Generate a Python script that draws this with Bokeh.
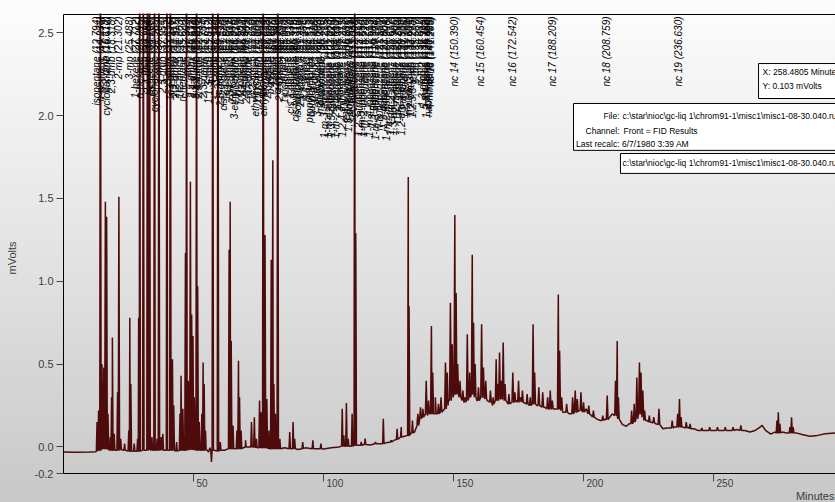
import math
from bokeh.plotting import figure
from bokeh.models import Range1d, FixedTicker, PrintfTickFormatter, Label, BoxAnnotation
from bokeh.core.properties import value
from bokeh.embed import file_html
from bokeh.resources import INLINE

# ---------------- data ----------------
# slowly varying baseline / hump (retention time in minutes, signal in mV)
baseline_rt = [0, 5, 10, 12.5, 20, 30, 40, 50, 55, 55.8, 56.3, 58, 60, 62, 65, 70, 75,
               80, 85, 90, 93, 97, 100, 103, 106, 110, 113, 118, 121, 124, 127, 130,
               133.5, 135, 136, 138, 140, 143, 146, 148, 152, 154, 156, 159, 163, 165,
               168, 171, 174, 176, 178, 182, 185, 189, 192, 194.5, 196, 198, 201, 203,
               205, 206.5, 208.5, 211, 214, 215, 216.5, 217.5, 224.5, 226, 227.8, 229.6,
               230.5, 232, 235, 238.2, 240.5, 242.5, 244, 247, 250, 253, 256, 259, 262,
               264, 266, 267.5, 268.7, 270, 272, 273.5, 276.5, 278, 281.8, 284, 287,
               290, 293, 297]
baseline_mv = [-0.030, -0.032, -0.030, -0.028, -0.020, -0.022, -0.020, -0.015, -0.015,
               -0.030, -0.005, -0.020, -0.022, -0.020, -0.010, 0.000, -0.005, -0.010,
               -0.005, -0.015, -0.005, -0.010, -0.012, -0.005, 0.000, 0.005, 0.010,
               0.012, 0.020, 0.025, 0.040, 0.060, 0.080, 0.090, 0.150, 0.180, 0.190,
               0.200, 0.220, 0.280, 0.310, 0.270, 0.300, 0.280, 0.280, 0.250, 0.290,
               0.260, 0.280, 0.300, 0.260, 0.250, 0.240, 0.230, 0.210, 0.200, 0.250,
               0.220, 0.230, 0.190, 0.170, 0.160, 0.170, 0.200, 0.160, 0.135, 0.125,
               0.140, 0.160, 0.150, 0.140, 0.130, 0.110, 0.115, 0.120, 0.120, 0.120,
               0.110, 0.100, 0.100, 0.100, 0.100, 0.100, 0.105, 0.100, 0.090, 0.100,
               0.115, 0.130, 0.100, 0.078, 0.090, 0.090, 0.085, 0.085, 0.075, 0.065,
               0.070, 0.080, 0.085]

# individual peaks: apex time, apex height, local base
peak_rt = [12.9, 13.5, 14.2, 14.8, 15.5, 16.1, 16.6, 17.1, 18.0, 18.5,
           18.8, 19.5, 20.8, 21.3, 22.0, 23.5, 25.1, 25.5, 25.9, 27.2,
           28.5, 28.9, 29.3, 30.7, 32.3, 33.1, 34.0, 35.0, 36.0, 36.7,
           37.6, 38.2, 39.8, 41.1, 41.9, 42.4, 43.5, 44.8, 45.2, 45.9,
           46.9, 47.3, 48.0, 48.8, 49.3, 49.8, 50.3, 51.2, 51.6, 52.2,
           53.2, 53.7, 54.1, 54.6, 56.9, 57.4, 59.4, 60.3, 63.7, 64.1,
           64.5, 65.2, 66.7, 67.3, 67.7, 68.3, 70.0, 72.3, 73.4, 74.2,
           75.4, 76.0, 76.8, 77.5, 78.2, 79.0, 79.9, 80.5, 80.9, 81.5,
           82.4, 83.2, 87.0, 88.3, 88.9, 92.0, 95.9, 99.0, 107.2, 107.8,
           108.8, 109.5, 111.0, 112.0, 112.4, 114.5, 116.0, 120.0, 123.0, 126.0,
           128.3, 129.9, 132.6, 132.9, 134.2, 136.3, 137.3, 138.2, 139.5, 140.4,
           141.5, 142.0, 143.0, 144.2, 145.2, 146.9, 147.6, 148.8, 149.5, 150.5,
           151.0, 151.6, 152.5, 153.6, 154.4, 155.3, 156.2, 157.2, 157.7, 158.3,
           159.6, 160.8, 161.5, 162.4, 164.2, 165.2, 166.4, 167.0, 167.7, 168.4,
           169.1, 169.8, 171.3, 172.8, 173.6, 175.0, 176.5, 178.3, 179.5, 180.6,
           181.2, 182.8, 184.3, 186.2, 187.2, 188.0, 190.3, 190.8, 191.6, 193.5,
           195.8, 196.8, 197.6, 199.0, 200.0, 202.0, 203.8, 207.4, 209.1, 212.3,
           212.96, 213.4, 218.5, 219.5, 220.5, 221.5, 222.1, 222.8, 223.5, 225.3,
           227.0, 229.0, 234.1, 236.2, 236.9, 237.5, 239.5, 241.0, 245.5, 248.5,
           251.5, 254.5, 257.5, 260.5, 274.4, 274.9, 275.5, 279.4, 280.0, 280.6]
peak_mv = [0.15, 0.22, 3.6, 0.50, 0.48, 1.48, 1.39, 0.20, 0.06, 0.30,
           0.66, 0.08, 0.33, 1.51, 0.05, 0.02, 0.10, 0.78, 0.38, 0.02,
           0.05, 0.78, 3.6, 3.6, 3.6, 3.6, 0.06, 3.6, 0.05, 3.6,
           0.06, 0.08, 3.6, 3.6, 0.53, 0.25, 0.03, 0.20, 0.43, 0.23,
           1.17, 3.6, 0.40, 1.60, 0.80, 0.67, 0.30, 3.6, 0.97, 0.15,
           0.20, 0.51, 0.38, 0.10, -0.09, 3.6, 3.6, 0.03, 1.19, 1.48,
           0.64, 0.13, 0.10, 0.52, 0.30, 0.10, 0.04, 0.15, 0.18, 0.05,
           0.28, 0.21, 3.6, 1.28, 0.29, 0.10, 1.13, 1.73, 0.38, 0.20,
           3.6, 0.05, 0.09, 0.15, 0.05, 0.03, 0.04, 0.02, 0.23, 0.07,
           0.265, 0.05, 0.20, 3.6, 1.29, 0.03, 0.05, 0.03, 0.17, 0.04,
           0.11, 0.12, 1.63, 0.85, 0.16, 0.20, 0.24, 0.23, 0.40, 0.28,
           0.73, 0.45, 0.30, 0.26, 0.30, 0.51, 0.45, 0.87, 0.62, 1.40,
           0.93, 0.50, 0.40, 0.34, 0.30, 0.68, 0.45, 1.16, 0.75, 0.50,
           0.36, 0.74, 0.48, 0.40, 0.34, 0.30, 0.53, 0.38, 0.57, 0.40,
           0.63, 0.38, 0.32, 0.45, 0.33, 0.40, 0.34, 0.32, 0.30, 0.74,
           0.45, 0.36, 0.33, 0.30, 0.34, 0.28, 0.92, 0.58, 0.30, 0.26,
           0.30, 0.34, 0.29, 0.33, 0.27, 0.25, 0.22, 0.19, 0.31, 0.40,
           0.64, 0.30, 0.22, 0.26, 0.42, 0.51, 0.45, 0.34, 0.22, 0.19,
           0.18, 0.23, 0.16, 0.20, 0.29, 0.18, 0.15, 0.14, 0.115, 0.12,
           0.12, 0.12, 0.12, 0.13, 0.16, 0.21, 0.14, 0.12, 0.18, 0.12]
peak_base_mv = [-0.025, -0.02, -0.02, -0.01, -0.01, -0.01, -0.01, -0.015, -0.02, -0.02,
                -0.02, -0.02, -0.02, -0.02, -0.015, -0.02, -0.025, -0.025, -0.025, -0.025,
                -0.025, -0.025, -0.025, -0.02, -0.02, -0.015, -0.02, -0.02, -0.02, -0.02,
                -0.015, -0.02, -0.02, -0.02, -0.02, -0.02, -0.025, -0.02, -0.02, -0.02,
                -0.02, -0.02, -0.015, -0.015, -0.015, -0.015, -0.015, -0.02, -0.02, -0.02,
                -0.02, -0.02, -0.02, -0.02, -0.02, -0.02, -0.025, -0.02, -0.01, -0.01,
                -0.01, -0.01, -0.01, -0.01, -0.01, -0.01, 0.0, 0.0, 0.0, -0.005,
                -0.005, -0.005, -0.005, -0.005, -0.005, -0.01, -0.01, -0.01, -0.01, -0.01,
                -0.01, -0.01, -0.01, -0.01, -0.01, -0.01, -0.01, -0.01, 0.005, 0.005,
                0.005, 0.005, 0.005, 0.01, 0.01, 0.01, 0.015, 0.02, 0.02, 0.03,
                0.045, 0.06, 0.07, 0.07, 0.085, 0.13, 0.17, 0.18, 0.2, 0.2,
                0.2, 0.2, 0.2, 0.2, 0.21, 0.23, 0.25, 0.28, 0.3, 0.32,
                0.32, 0.32, 0.3, 0.28, 0.27, 0.28, 0.3, 0.32, 0.32, 0.3,
                0.28, 0.3, 0.3, 0.29, 0.27, 0.26, 0.28, 0.28, 0.29, 0.29,
                0.29, 0.28, 0.26, 0.27, 0.27, 0.27, 0.27, 0.26, 0.25, 0.26,
                0.26, 0.25, 0.24, 0.23, 0.23, 0.23, 0.23, 0.23, 0.22, 0.21,
                0.2, 0.21, 0.21, 0.22, 0.21, 0.2, 0.18, 0.16, 0.165, 0.19,
                0.19, 0.17, 0.14, 0.15, 0.17, 0.2, 0.2, 0.18, 0.16, 0.15,
                0.145, 0.135, 0.115, 0.12, 0.12, 0.12, 0.115, 0.11, 0.1, 0.1,
                0.1, 0.1, 0.1, 0.1, 0.085, 0.085, 0.085, 0.085, 0.085, 0.085]

# peak annotations (retention time, name)
label_rt = [12.794, 14.236, 16.118, 16.612, 18.318, 21.302, 25.488, 27.712, 29.295, 30.712,
            32.284, 33.108, 34.985, 36.702, 37.954, 39.812, 41.126, 42.417, 44.803, 45.620,
            47.302, 48.812, 49.533, 51.215, 52.031, 53.704, 54.615, 57.412, 58.540, 59.432,
            61.620, 63.912, 64.905, 66.215, 67.987, 69.544, 71.322, 72.610, 73.806, 75.402,
            76.824, 77.512, 78.630, 79.607, 80.486, 81.540, 82.384, 84.105, 86.012, 87.330,
            88.515, 90.118, 92.306, 94.512, 96.408, 98.770, 100.215, 101.903, 103.225, 104.610,
            106.114, 107.215, 108.806, 110.011, 111.032, 112.008, 113.412, 114.690, 116.220, 117.513,
            118.902, 120.114, 121.506, 122.981, 124.308, 125.617, 126.906, 128.290, 129.906, 131.105,
            132.604, 134.218, 135.507, 136.802, 137.915, 139.480, 140.410, 141.285, 150.390, 160.454,
            172.542, 188.209, 208.759, 236.630,
            42.915, 50.640, 55.812, 60.512, 62.804, 65.610, 68.820, 70.402, 74.603, 83.215,
            85.040, 89.310, 91.214, 93.415, 95.512, 97.603, 99.405, 102.610, 105.304, 109.415,
            115.512, 119.508, 123.604, 127.705, 130.512, 133.405, 138.702, 140.905]
label_name = ["isopentane", "n-pentane", "2,2-dmb", "cyclopentane", "2,3-dmb", "2-mp", "3-mp",
              "1-hexene", "n-hexane", "mcp", "2,4-dmp", "benzene", "cyclohexane", "2-mhx",
              "2,3-dmp", "3-mhx", "1c3-dmcp", "1t3-dmcp", "1t2-dmcp", "n-heptane", "mch",
              "2,5-dmhx", "2,4-dmhx", "toluene", "2,3,4-tmp", "2,3-dmhx", "2-mhp", "4-mhp",
              "3-mhp", "1c3-dmch", "cis 2-octene", "1t4-dmch", "2,2,5-tmhx", "1,1-dmch",
              "tr 2-octene", "2,4-dmhp", "n-octane", "1c2-dmch", "ethylcyclohex", "2,6-dmhp",
              "ethylbenzene", "m-xylene", "2,3-dmhp", "p-xylene", "4-moct", "2-moct",
              "o-xylene", "3-moct", "1-nonene", "cis 3-nonene", "n-nonane", "isopropylbenz",
              "2,2-dmoct", "propylcyclohex", "2,6-dmoct", "n-propylbenz", "1-m-3-etbenzene",
              "1-m-4-etbenzene", "1,3,5-tmbenzene", "1-m-2-etbenzene", "3-mnonane",
              "1,2,4-tmbenzene", "tert-butylbenz", "isobutylbenz", "sec-butylbenz", "n-decane",
              "1,2,3-tmbenzene", "1-m-3-ipbenzene", "indane", "1-m-4-ipbenzene",
              "1,3-debenzene", "1-m-3-npbenzene", "n-butylbenzene", "1,2-debenzene",
              "1-m-2-npbenzene", "1,4-dm-2-etbenz", "1,3-dm-4-etbenz", "t1b 2-dmbenz",
              "1,2-dm-4-etbenz", "1,2,4,5-temb", "n-undecane", "1,2,3,5-temb", "1-mn", "2-mn",
              "1,3-dmb 2", "1,2,3,4-temb", "naphthalene", "nc 13", "nc 14", "nc 15",
              "nc 16", "nc 17", "nc 18", "nc 19",
              "2,2-dmhx", "2,2,3-tmp", "1,1,3-tmcp", "2,5-dmhx 2", "1c4-dmch", "3-ethylhexane",
              "1t2-dmch", "2,3,5-tmhx", "1,1,3-tmch", "2,4-dmoct", "1-octene 2", "cis-hydrindane",
              "2,6-dmhp 2", "3,3-dmoct", "butylcyclohex", "3-ethyloctane", "4-mnonane",
              "2-mnonane", "3-enonane", "1,3-dmcyclohex", "1-m-2-ipbenzene", "5-mdecane",
              "4-mdecane", "2-mdecane", "3-mdecane", "1,2-dm-3-eb", "5-mindane", "4-mindane"]

x_ticks = [50, 100, 150, 200, 250]
y_ticks = [-0.16, 0.0, 0.5, 1.0, 1.5, 2.0, 2.5]

file_path = "c:\\star\\nioc\\gc-liq 1\\chrom91-1\\misc1\\misc1-08-30.040.run"

# ---------------- build the trace ----------------
pts = list(zip(baseline_rt, baseline_mv))
for t, h, b in zip(peak_rt, peak_mv, peak_base_mv):
    w = 0.26 if t < 135 else 0.32
    pts += [(t - w, b), (t, h), (t + w, b)]
pts.sort(key=lambda q: q[0])
trace_rt = [q[0] for q in pts]
trace_mv = [q[1] for q in pts]

SANS = "Liberation Sans"
X0, X1 = 0.0, 296.9          # plotted time span
Y0, Y1 = -0.16, 2.61         # plotted signal span (bottom labelled -0.2)

p = figure(width=835, height=502, x_range=Range1d(-0.385, 296.9), y_range=Range1d(-0.335, 2.616),
           output_backend="svg", toolbar_location=None,
           min_border_left=62, min_border_right=0, min_border_top=13, min_border_bottom=0)
p.background_fill_color = None
p.border_fill_color = None
p.outline_line_color = None
p.styles = {"background": "linear-gradient(180deg, #fdfdfd 0%, #e6e6e6 45%, #c8c8c8 100%)"}
p.grid.visible = False
p.xaxis.visible = False

# left axis (ticks + labels), its line drawn as a segment below
p.yaxis.ticker = FixedTicker(ticks=y_ticks)
p.yaxis.formatter = PrintfTickFormatter(format="%.1f")
p.yaxis.major_tick_out = 6
p.yaxis.major_tick_in = 1
p.yaxis.major_tick_line_color = "#444444"
p.yaxis.minor_tick_line_color = None
p.yaxis.axis_line_color = None
p.yaxis.major_label_text_font = SANS
p.yaxis.major_label_text_font_size = "11px"
p.yaxis.major_label_text_color = "#3c3c3c"
p.yaxis.major_label_standoff = 3
p.yaxis.axis_label = "mVolts"
p.yaxis.axis_label_text_font = SANS
p.yaxis.axis_label_text_font_style = "normal"
p.yaxis.axis_label_text_font_size = "11px"
p.yaxis.axis_label_text_color = "#3c3c3c"
p.yaxis.axis_label_standoff = 14

# frame lines: left, bottom, top
p.segment(x0=[X0, X0, X0], y0=[Y0, Y0, Y1], x1=[X0, X1, X1], y1=[Y1, Y0, Y1],
          line_color="black", line_width=1)
# x ticks (below the axis line)
p.segment(x0=x_ticks, y0=[Y0] * len(x_ticks), x1=x_ticks, y1=[Y0 - 0.048] * len(x_ticks),
          line_color="#444444", line_width=1)
p.text(x=x_ticks, y=[-0.196] * len(x_ticks), text=[str(t) for t in x_ticks], x_offset=3,
       text_align="left", text_baseline="top", text_font=value(SANS),
       text_font_size="10px", text_color="#3c3c3c")
p.text(x=[296.5], y=[-0.262], text=["Minutes"], text_align="right", text_baseline="top",
       text_font=value(SANS), text_font_size="11px", text_color="#3c3c3c")

# trace
p.line(trace_rt, trace_mv, line_color="#4d0b0b", line_width=1.5)

# peak labels
label_text = ["%s (%.3f)" % (n, r) for n, r in zip(label_name, label_rt)]
p.text(x=label_rt, y=[2.598] * len(label_rt), text=label_text, angle=math.pi / 2,
       text_align="right", text_baseline="middle", text_font=value(SANS),
       text_font_style="italic", text_font_size="10px", text_color="black")

# info boxes
for left, top, bottom in [(267.3, 2.314, 2.103), (196.15, 2.073, 1.790), (214.2, 1.771, 1.651)]:
    p.add_layout(BoxAnnotation(left=left, right=310, top=top, bottom=bottom, fill_color="white",
                               fill_alpha=1, line_color="black", line_width=1, line_alpha=1))

def info(x, y, txt, align="left"):
    p.add_layout(Label(x=x, y=y, text=txt, text_align=align, text_baseline="middle",
                       text_font=SANS, text_font_size="8.5px", text_color="black"))

info(268.85, 2.261, "X:  258.4805 Minutes")
info(268.85, 2.176, "Y: 0.103 mVolts")
info(213.85, 1.998, "File:", "right")
info(213.85, 1.908, "Channel:", "right")
info(213.85, 1.829, "Last recalc:", "right")
info(215.0, 1.998, file_path)
info(215.4, 1.908, "Front = FID  Results")
info(214.8, 1.829, "6/7/1980 3:39 AM")
info(215.0, 1.711, file_path)

open("out.html", "w").write(file_html(p, INLINE))
